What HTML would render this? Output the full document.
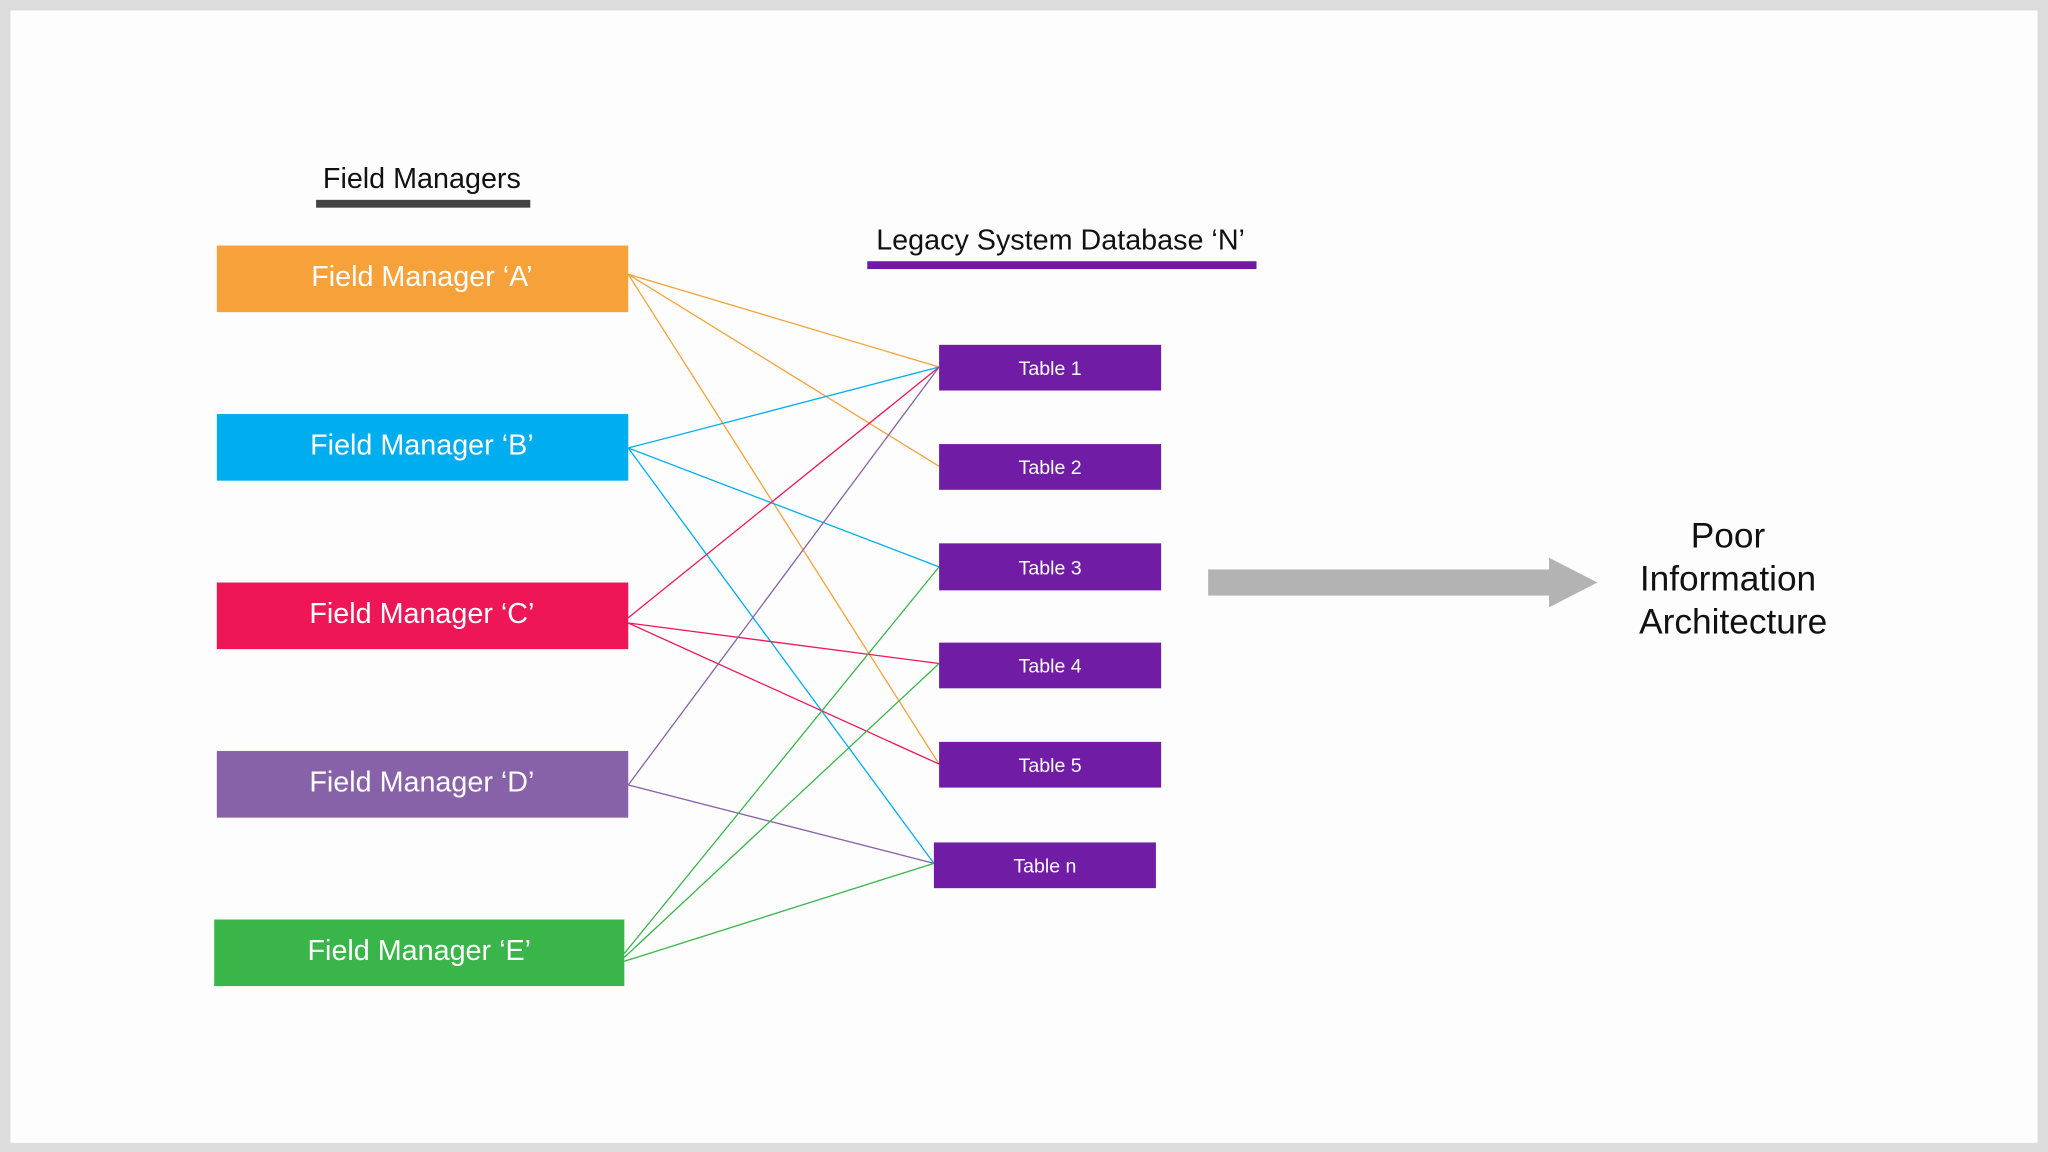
<!DOCTYPE html>
<html><head><meta charset="utf-8"><style>
html,body{margin:0;padding:0;background:#dcdcdc}
svg{display:block}
text{font-family:"Liberation Sans",sans-serif}
</style></head><body>
<svg width="2048" height="1152" viewBox="0 0 1568 882" xmlns="http://www.w3.org/2000/svg">
<rect x="0" y="0" width="1568" height="882" fill="#dcdcdc"/>
<rect x="8" y="8" width="1552" height="867" fill="#fdfdfd"/>
<text x="323" y="144" font-size="22" text-anchor="middle" fill="#111">Field Managers</text>
<rect x="242" y="153" width="164" height="6" fill="#444"/>
<text x="812" y="191" font-size="22" text-anchor="middle" fill="#111">Legacy System Database ‘N’</text>
<rect x="664" y="200" width="298" height="6" fill="#7019a3"/>
<g stroke-width="1" fill="none">
<line x1="481" y1="210" x2="719" y2="281" stroke="#f7a13a"/>
<line x1="481" y1="210" x2="719" y2="357" stroke="#f7a13a"/>
<line x1="481" y1="210" x2="719" y2="585" stroke="#f7a13a"/>
<line x1="481" y1="343" x2="719" y2="281" stroke="#00aeef"/>
<line x1="481" y1="343" x2="719" y2="434" stroke="#00aeef"/>
<line x1="481" y1="343" x2="715" y2="661" stroke="#00aeef"/>
<line x1="481" y1="473" x2="719" y2="281" stroke="#ee1657"/>
<line x1="481" y1="477" x2="719" y2="508" stroke="#ee1657"/>
<line x1="481" y1="477" x2="719" y2="585" stroke="#ee1657"/>
<line x1="481" y1="601" x2="719" y2="281" stroke="#8862a8"/>
<line x1="481" y1="601" x2="715" y2="661" stroke="#8862a8"/>
<line x1="478" y1="730" x2="719" y2="434" stroke="#3ab54a"/>
<line x1="478" y1="733" x2="719" y2="508" stroke="#3ab54a"/>
<line x1="478" y1="736" x2="715" y2="661" stroke="#3ab54a"/>
</g>
<g font-size="22" fill="#fff" text-anchor="middle">
<rect x="166" y="188" width="315" height="51" fill="#f7a13a"/><text x="323" y="219">Field Manager ‘A’</text>
<rect x="166" y="317" width="315" height="51" fill="#00aeef"/><text x="323" y="348">Field Manager ‘B’</text>
<rect x="166" y="446" width="315" height="51" fill="#ee1657"/><text x="323" y="477">Field Manager ‘C’</text>
<rect x="166" y="575" width="315" height="51" fill="#8862a8"/><text x="323" y="606">Field Manager ‘D’</text>
<rect x="164" y="704" width="314" height="51" fill="#3ab54a"/><text x="321" y="735">Field Manager ‘E’</text>
</g>
<g font-size="15" fill="#fff" text-anchor="middle">
<rect x="719" y="264" width="170" height="35" fill="#701ca4"/><text x="804" y="287">Table 1</text>
<rect x="719" y="340" width="170" height="35" fill="#701ca4"/><text x="804" y="363">Table 2</text>
<rect x="719" y="416" width="170" height="36" fill="#701ca4"/><text x="804" y="440">Table 3</text>
<rect x="719" y="492" width="170" height="35" fill="#701ca4"/><text x="804" y="515">Table 4</text>
<rect x="719" y="568" width="170" height="35" fill="#701ca4"/><text x="804" y="591">Table 5</text>
<rect x="715" y="645" width="170" height="35" fill="#701ca4"/><text x="800" y="668">Table n</text>
</g>
<rect x="925" y="436" width="263" height="20" fill="#b3b3b3"/>
<polygon points="1186,427 1223,446 1186,465" fill="#b3b3b3"/>
<g font-size="27" fill="#111" text-anchor="middle">
<text x="1323" y="419">Poor</text>
<text x="1323" y="452">Information</text>
<text x="1327" y="485">Architecture</text>
</g>
</svg>
</body></html>
